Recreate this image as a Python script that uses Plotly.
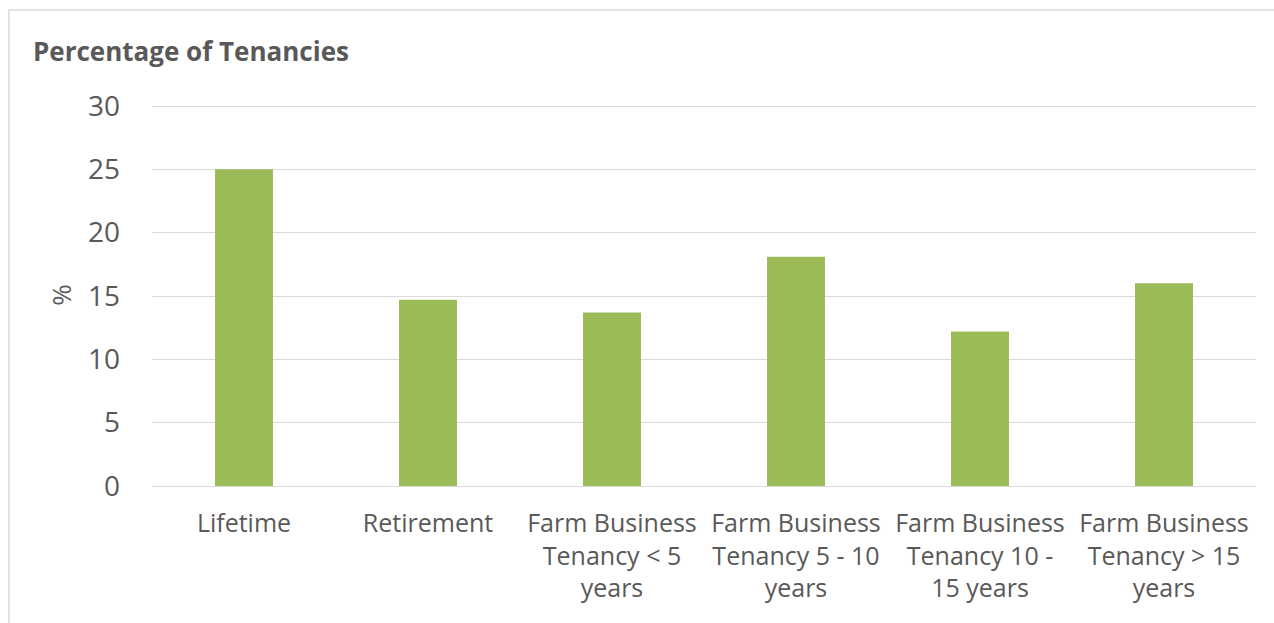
import plotly.graph_objects as go

categories = ["Lifetime", "Retirement",
              "Farm Business<br>Tenancy &lt; 5<br>years",
              "Farm Business<br>Tenancy 5 - 10<br>years",
              "Farm Business<br>Tenancy 10 -<br>15 years",
              "Farm Business<br>Tenancy &gt; 15<br>years"]
values = [25.0, 14.7, 13.7, 18.1, 12.2, 16.0]
y_ticks = [0, 5, 10, 15, 20, 25, 30]

W, H = 1274, 623
L, R, T, B = 152, 18, 104, 137
pw, ph = W - L - R, H - T - B

font = "Open Sans, Noto Sans, sans-serif"
grey = "#595959"

fig = go.Figure(go.Bar(x=categories, y=values, marker_color="#9bbb59",
                       marker_line_width=0, width=0.315))

fig.update_layout(
    width=W, height=H,
    margin=dict(l=L, r=R, t=T, b=B, pad=0),
    paper_bgcolor="white", plot_bgcolor="white",
    showlegend=False,
    font=dict(family=font, color=grey, size=24),
    title=dict(text="<b>Percentage of Tenancies</b>", x=33 / W, xanchor="left",
               y=1 - 52 / H, yanchor="middle", xref="container", yref="container",
               font=dict(size=26, color=grey, family=font)),
    xaxis=dict(showgrid=False, showline=False, ticks="", ticklabelstandoff=20,
               tickfont=dict(size=25, color=grey)),
    yaxis=dict(range=[0, 30.16], tickvals=y_ticks, showgrid=True, gridcolor="#d9d9d9",
               gridwidth=1, zeroline=True, zerolinecolor="#d9d9d9", zerolinewidth=1,
               showline=False, ticks="", ticklabelstandoff=31,
               tickfont=dict(size=28, color=grey),
               title=dict(text="%", standoff=8, font=dict(size=26, color=grey))),
)

# outer chart frame
fig.add_shape(type="rect", xref="paper", yref="paper",
              x0=(9 - L) / pw, x1=(W + 20 - L) / pw,
              y0=-(H + 20 - (T + ph)) / ph, y1=(T + ph - 10) / ph,
              line=dict(color="#d9d9d9", width=1.5), fillcolor="rgba(0,0,0,0)", layer="below")

fig.write_html("out.html")
